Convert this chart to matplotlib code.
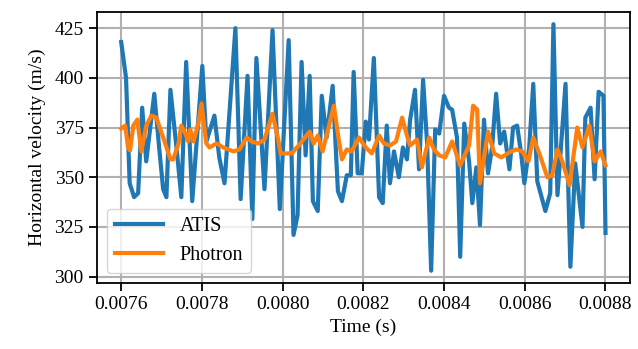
import numpy as np
import matplotlib.pyplot as plt

plt.rcParams['font.family'] = ['Liberation Serif', 'DejaVu Serif']
plt.rcParams['font.size'] = 14

# ATIS samples (time in microseconds, horizontal velocity m/s)
atis_t_us = [7600, 7612, 7621, 7632, 7642, 7652, 7662, 7682, 7694, 7704,
             7712, 7722, 7737, 7749, 7761, 7776, 7801, 7811, 7831, 7843,
             7856, 7883, 7896, 7913, 7925, 7935, 7955, 7975, 7993, 8015,
             8027, 8037, 8047, 8057, 8067, 8075, 8087, 8097, 8109, 8124,
             8137, 8147, 8159, 8169, 8176, 8186, 8196, 8206, 8214, 8226,
             8239, 8248, 8258, 8266, 8276, 8288, 8298, 8308, 8316, 8328,
             8338, 8348, 8358, 8368, 8378, 8388, 8400, 8412, 8420, 8432,
             8440, 8450, 8462, 8470, 8480, 8489, 8499, 8509, 8519, 8529,
             8539, 8549, 8562, 8571, 8581, 8591, 8599, 8611, 8621, 8631,
             8651, 8663, 8671, 8681, 8701, 8713, 8725, 8743, 8750, 8763,
             8773, 8783, 8795, 8800]
atis_v = [418, 400, 347, 340, 342, 385, 358, 392, 365, 344,
          340, 394, 365, 340, 408, 338, 406, 368, 381, 360,
          347, 425, 339, 401, 329, 410, 344, 424, 334, 419,
          321, 331, 408, 361, 401, 338, 333, 391, 370, 396,
          343, 338, 351, 351, 403, 352, 352, 378, 369, 410,
          340, 337, 376, 347, 363, 350, 365, 359, 379, 394,
          354, 399, 367, 303, 374, 372, 391, 385, 384, 370,
          310, 377, 358, 337, 355, 326, 379, 352, 365, 392,
          367, 373, 354, 375, 376, 362, 347, 365, 397, 348,
          333, 342, 427, 341, 397, 305, 357, 325, 380, 385,
          349, 393, 391, 322]

# Photron samples
phot_t_us = [7600, 7610, 7617, 7622, 7630, 7640, 7650, 7662, 7675, 7687,
             7704, 7722, 7729, 7742, 7749, 7759, 7766, 7771, 7779, 7791,
             7799, 7811, 7819, 7836, 7853, 7878, 7893, 7911, 7923, 7940,
             7955, 7975, 7988, 7995, 8022, 8040, 8067, 8077, 8087, 8099,
             8127, 8139, 8147, 8159, 8171, 8189, 8206, 8221, 8239, 8251,
             8266, 8281, 8296, 8308, 8316, 8333, 8345, 8363, 8375, 8388,
             8403, 8420, 8440, 8462, 8472, 8482, 8489, 8509, 8524, 8542,
             8566, 8579, 8594, 8609, 8621, 8636, 8656, 8668, 8681, 8693,
             8711, 8730, 8743, 8760, 8773, 8788, 8800]
phot_v = [374.5, 376, 365, 363.5, 376, 379, 363, 376, 381, 380,
          370, 359, 359, 367, 376, 372, 368, 374, 368, 377,
          387, 367, 365, 367, 365, 363, 364, 370, 368, 367,
          369, 382, 370, 362, 362, 366, 373, 367, 371, 363,
          386, 369, 359, 364, 363, 370, 365, 362, 371, 367,
          366, 368, 380, 371, 366, 369, 355, 370, 364, 361,
          360, 368, 356, 366, 386, 384, 347, 373, 362, 360,
          363, 364, 363, 358, 370, 362, 350, 351, 364, 358,
          346, 375, 365, 376, 358, 363, 356]

atis_t = np.array(atis_t_us) * 1e-6
phot_t = np.array(phot_t_us) * 1e-6

fig = plt.figure(figsize=(6.38, 3.49), dpi=100)
ax = fig.add_axes([0.152, 0.189, 0.835, 0.777])

ax.plot(atis_t, atis_v, color='#1f77b4', lw=3, label='ATIS')
ax.plot(phot_t, phot_v, color='#ff7f0e', lw=3, label='Photron')

ax.set_xticks(np.arange(0.0076, 0.00881, 0.0002))
ax.set_yticks(np.arange(300, 426, 25))
ax.xaxis.set_major_formatter(plt.FormatStrFormatter('%.4f'))
ax.grid(True, color='#b0b0b0', lw=1.5)
ax.set_axisbelow(True)
ax.tick_params(length=6, width=1.3)
for s in ax.spines.values():
    s.set_linewidth(1.3)

ax.set_xlabel('Time (s)')
ax.set_ylabel('Horizontal velocity (m/s)', labelpad=6)
ax.legend(loc='lower left', fontsize=14.5, handlelength=2.4)

fig.savefig('out.png', dpi=100)
